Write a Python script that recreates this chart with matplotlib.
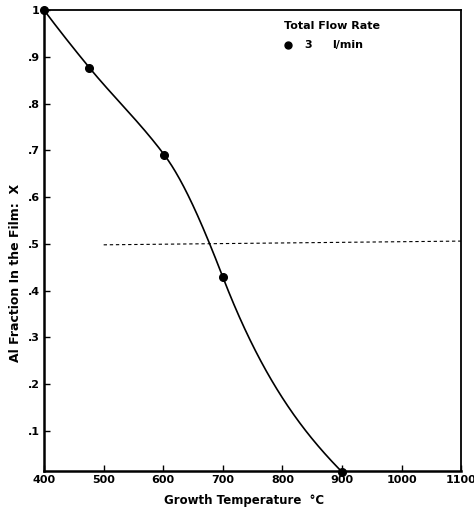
import numpy as np
import matplotlib
matplotlib.use('Agg')
from matplotlib import pyplot as plt

# data
temp = [400, 476, 602, 700, 900]
al_frac = [1.0, 0.877, 0.69, 0.429, 0.012]
ref_level = 0.498
ref_span = [500, 1100]
xticks = [400, 500, 600, 700, 800, 900, 1000, 1100]
yticks = [0.1, 0.2, 0.3, 0.4, 0.5, 0.6, 0.7, 0.8, 0.9, 1.0]
ylabels = ['.1', '.2', '.3', '.4', '.5', '.6', '.7', '.8', '.9', '1']

# slope of the hand drawn curve at each point
tangent = [-0.0017, -0.00155, -0.0017, -0.0033, -0.0013]


def hermite(x, y, m, xs):
    x = np.asarray(x, float)
    y = np.asarray(y, float)
    m = np.asarray(m, float)
    k = np.clip(np.searchsorted(x, xs) - 1, 0, len(x) - 2)
    h = x[k + 1] - x[k]
    t = (xs - x[k]) / h
    h00 = 2 * t**3 - 3 * t**2 + 1
    h10 = t**3 - 2 * t**2 + t
    h01 = -2 * t**3 + 3 * t**2
    h11 = t**3 - t**2
    return h00 * y[k] + h10 * h * m[k] + h01 * y[k + 1] + h11 * h * m[k + 1]


fig = plt.figure(figsize=(4.74, 5.09), dpi=100)
ax = fig.add_axes([0.093, 0.075, 0.880, 0.905])

xs = np.linspace(temp[0], temp[-1], 500)
ax.plot(xs, hermite(temp, al_frac, tangent, xs), color='black', lw=1.2)
ax.plot(temp, al_frac, 'o', color='black', ms=5.5, clip_on=False, zorder=5)
ax.plot(ref_span, [ref_level, ref_level + 0.008], color='black', lw=0.8,
        ls=(0, (3, 2.5)))

ax.set_xlim(400, 1100)
ax.set_ylim(0.0145, 1.0)
ax.set_xticks(xticks)
ax.set_yticks(yticks)
ax.set_yticklabels(ylabels)
ax.tick_params(direction='in', length=4, width=1, labelsize=8, pad=3)
for lab in ax.get_xticklabels() + ax.get_yticklabels():
    lab.set_fontweight('bold')

for s in ['left', 'bottom']:
    ax.spines[s].set_linewidth(1.8)
for s in ['top', 'right']:
    ax.spines[s].set_linewidth(1.3)

ax.set_xlabel('Growth Temperature  \u00b0C', fontsize=8.5, fontweight='bold')
ax.xaxis.set_label_coords(0.48, -0.05)
ax.set_ylabel('Al Fraction In the Film:  X', fontsize=9, fontweight='bold')
ax.yaxis.set_label_coords(-0.052, 0.43)

ax.text(0.575, 0.965, 'Total Flow Rate', transform=ax.transAxes, fontsize=8,
        fontweight='bold', ha='left', va='center')
ax.plot([0.585], [0.925], 'o', color='black', ms=5, transform=ax.transAxes)
ax.text(0.625, 0.925, '3', transform=ax.transAxes, fontsize=8,
        fontweight='bold', va='center')
ax.text(0.69, 0.925, 'l/min', transform=ax.transAxes, fontsize=8,
        fontweight='bold', va='center')

fig.savefig('out.png', dpi=100)
